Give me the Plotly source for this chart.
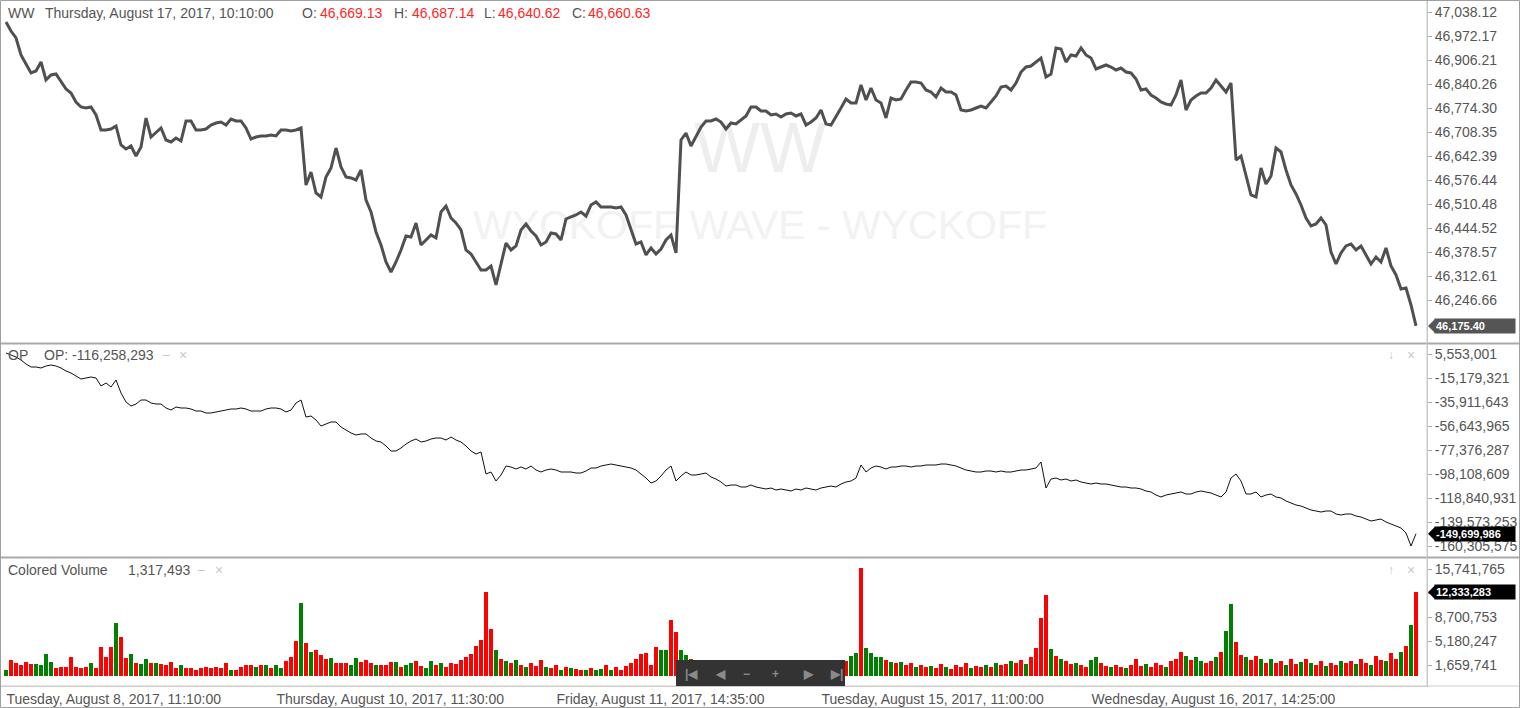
import numpy as np
import plotly.graph_objects as go

# ---------------- data ----------------
price = [
    47010.6, 46985.9, 46966.7, 46920.0, 46895.2, 46870.5, 46876.0, 46900.7, 46851.3, 46865.0,
    46867.7, 46845.8, 46826.5, 46815.5, 46790.8, 46777.1, 46774.3, 46777.1, 46755.1, 46713.9,
    46713.9, 46716.6, 46724.9, 46672.6, 46661.6, 46669.9, 46642.4, 46667.1, 46746.8, 46694.6,
    46708.4, 46719.4, 46686.4, 46680.9, 46691.9, 46683.6, 46738.6, 46738.6, 46713.9, 46713.9,
    46716.6, 46727.6, 46733.1, 46735.8, 46727.6, 46744.1, 46738.6, 46738.6, 46719.4, 46689.1,
    46694.6, 46697.4, 46697.4, 46700.1, 46697.4, 46713.9, 46713.9, 46711.1, 46713.9, 46719.4,
    46562.7, 46598.4, 46540.7, 46529.7, 46584.7, 46609.4, 46664.4, 46612.2, 46584.7, 46582.0,
    46576.5, 46603.9,
    46521.5, 46488.5, 46433.6, 46397.8, 46351.1, 46323.6, 46351.1, 46384.1, 46422.6, 46419.8,
    46458.3, 46397.8, 46411.6, 46425.3, 46417.1, 46488.5, 46505.0, 46472.0, 46458.3, 46439.1,
    46384.1, 46373.1, 46351.1, 46329.1, 46329.1, 46340.1, 46287.9, 46342.9, 46403.3, 46384.1,
    46395.1, 46439.1, 46455.5, 46436.3, 46422.6, 46397.8, 46406.1, 46430.8, 46428.1, 46411.6,
    46469.3, 46474.8, 46480.3, 46488.5, 46477.5, 46507.8, 46516.0, 46502.3, 46502.3, 46502.3,
    46499.5, 46502.3, 46480.3, 46439.1, 46400.6, 46406.1, 46370.4, 46389.6, 46373.1, 46386.8,
    46411.6, 46425.3, 46375.9, 46686.4, 46705.6, 46669.9, 46694.6, 46722.1, 46738.6, 46738.6,
    46744.1, 46735.8, 46716.6, 46733.1, 46730.3, 46741.3, 46752.3, 46777.1, 46777.1, 46766.1,
    46766.1, 46755.1, 46757.8, 46749.6, 46757.8, 46760.6, 46752.3, 46757.8, 46727.6, 46735.8,
    46746.8, 46768.8, 46730.3, 46727.6, 46749.6, 46774.3, 46799.0, 46788.1, 46788.1, 46837.5,
    46796.3, 46829.3, 46796.3, 46788.1, 46746.8, 46801.8, 46796.3,
    46799.0, 46823.8, 46845.8, 46845.8, 46843.0, 46823.8, 46818.3, 46804.5, 46829.3, 46818.3,
    46818.3, 46810.0, 46768.8, 46766.1, 46768.8, 46774.3, 46779.8, 46774.3, 46790.8, 46807.3,
    46832.0, 46834.8, 46823.8, 46843.0, 46873.2, 46887.0, 46889.7, 46900.7, 46911.7, 46859.5,
    46867.7, 46939.2, 46936.4, 46900.7, 46920.0, 46917.2, 46939.2, 46920.0, 46911.7, 46881.5,
    46887.0, 46892.5, 46887.0, 46878.7, 46884.2, 46873.2, 46870.5, 46854.0, 46823.8, 46826.5,
    46810.0, 46801.8, 46790.8, 46785.3, 46782.6, 46810.0, 46851.3, 46768.8, 46796.3, 46807.3,
    46815.5, 46815.5, 46829.3, 46851.3, 46834.8, 46818.3, 46843.0, 46631.4, 46642.4, 46590.2,
    46535.2, 46529.7, 46609.4, 46565.5, 46587.5, 46664.4, 46653.4, 46603.9, 46562.7, 46538.0,
    46507.8, 46472.0, 46450.1, 46455.5, 46472.0, 46452.8, 46378.6, 46345.6, 46375.9, 46395.1,
    46400.6, 46384.1, 46395.1, 46370.4, 46345.6, 46364.9, 46351.1, 46389.6, 46340.1, 46315.4,
    46276.9, 46279.7, 46233.0, 46175.4,
]

# OP indicator, millions
op_millions = [
    6.42, 4.69, 2.96, 0.37, -3.09, -5.68, -5.68, -6.54, -4.81, -3.95,
    -4.81, -6.54, -9.13, -10.86, -13.45, -16.04, -15.18, -14.31, -15.18, -22.09,
    -19.50, -22.95, -16.91, -28.14, -35.91, -39.37, -37.64, -34.18, -34.18, -36.78,
    -37.64, -37.64, -41.10, -42.82, -40.23, -41.10, -41.10, -41.96, -43.69, -43.69,
    -45.41, -45.41, -44.55, -43.69, -42.82, -41.96, -41.96, -41.10, -41.96, -43.69,
    -43.69, -43.69, -41.96, -41.10, -41.10, -41.96, -44.55, -42.82, -36.78, -34.18,
    -48.87, -48.01, -51.46, -56.64, -54.92, -53.19, -53.19, -57.51, -60.10, -62.69,
    -64.42, -63.55, -63.55, -67.01, -69.60, -70.47, -73.92, -78.24, -78.24, -75.65,
    -72.19, -69.60, -67.88, -70.47, -69.60, -67.88, -67.01, -67.01, -68.74, -66.15,
    -68.74, -70.47, -73.92, -78.24, -80.83, -79.10, -98.11, -96.38, -104.16, -98.97,
    -91.20, -92.06, -93.79, -92.06, -93.79, -91.20, -94.65, -96.38, -94.65, -93.79,
    -94.65, -96.38, -96.38, -96.38, -97.25, -97.25, -95.52, -92.93, -92.93, -91.20,
    -90.33, -89.47, -90.33, -91.20, -92.06, -92.93, -94.65, -98.11, -101.56, -105.88,
    -104.16, -99.84, -94.65, -91.20, -104.16, -99.84, -96.38, -98.97, -98.97, -98.11,
    -97.25, -100.70, -102.43, -105.02, -108.48, -107.61, -107.61, -109.34, -109.34, -107.61,
    -109.34, -110.20, -111.07, -110.20, -111.93, -111.07, -111.93, -112.79, -111.07, -111.93,
    -110.20, -111.07, -111.93, -110.20, -109.34, -108.48, -109.34, -106.75, -105.02, -104.16,
    -101.56, -90.33, -96.38, -92.93, -91.20, -92.06, -93.79, -92.06, -92.06, -91.20,
    -91.20, -92.06, -91.20, -91.20, -90.33, -90.33, -90.33, -89.47, -89.47, -90.33,
    -91.20, -92.93, -94.65, -95.52, -96.38, -96.38, -95.52, -95.52, -96.38, -95.52,
    -96.38, -96.38, -95.52, -94.65, -94.65, -93.79, -92.93, -87.74, -110.20, -102.43,
    -101.56, -103.29, -102.43, -104.16, -103.29, -105.02, -105.88, -106.75, -105.88, -106.75,
    -106.75, -107.61, -108.48, -109.34, -109.34, -110.20, -110.20, -111.07, -112.79, -113.66,
    -116.25, -117.98, -116.25, -115.39, -114.52, -113.66, -115.39, -115.39, -113.66, -112.79,
    -113.66, -114.52, -116.25, -117.98, -113.66, -101.56, -98.11, -104.16, -115.39, -115.39,
    -113.66, -117.98, -116.25, -115.39, -117.98, -118.84, -121.43, -123.16, -124.89, -125.75,
    -127.48, -129.21, -130.07, -130.94, -130.07, -130.07, -132.66, -133.53, -132.66, -132.66,
    -134.39, -135.26, -136.98, -138.71, -137.85, -136.98, -139.57, -141.30, -143.03, -144.76,
    -149.08, -160.31, -149.699986,
]

# Colored volume, millions
volume_millions = [
    0.92, 2.39, 1.91, 1.66, 2.05, 1.76, 1.76, 1.66, 3.32, 2.05,
    1.17, 1.41, 1.41, 2.88, 1.41, 1.17, 1.41, 1.91, 1.26, 4.34,
    2.88, 4.34, 7.77, 5.81, 2.73, 3.23, 1.91, 1.76, 2.54, 1.91,
    1.91, 1.76, 1.66, 2.05, 1.17, 1.66, 1.17, 1.17, 0.92, 1.17,
    1.41, 1.17, 1.41, 1.17, 1.91, 0.92, 0.92, 1.41, 1.66, 1.66,
    1.41, 1.66, 1.66, 1.17, 1.66, 1.17, 2.24, 2.88, 5.18, 10.80,
    4.84, 3.61, 3.86, 3.12, 2.54, 2.73, 1.91, 1.91, 1.91, 1.66,
    2.64, 2.05, 2.35, 1.91, 1.66, 1.66, 1.66, 2.14, 2.14, 1.40,
    1.70, 2.00, 2.20, 1.50, 1.20, 2.30, 1.60, 1.90, 1.30, 2.00,
    1.80, 2.40, 2.90, 3.30, 4.40, 5.40, 12.30, 7.00, 3.80, 2.60,
    2.20, 2.00, 2.40, 1.60, 1.30, 1.90, 1.50, 2.40, 1.30, 1.20,
    1.60, 1.00, 1.30, 1.20, 1.10, 0.90, 1.00, 1.20, 0.90, 1.10,
    1.60, 1.00, 1.40, 1.00, 1.50, 2.00, 2.60, 3.30, 3.40, 1.70,
    4.30, 3.80, 3.80, 8.30, 6.50, 3.90, 3.10, 2.60, 1.80, 1.50,
    1.30, 1.10, 1.20, 1.40, 1.00, 1.20, 1.60, 1.10, 1.00, 1.30,
    1.40, 1.10, 0.90, 1.20, 1.00, 1.30, 1.10, 1.00, 1.20, 1.00,
    1.30, 1.10, 1.20, 1.40, 1.20, 1.50, 1.30, 1.60, 2.20, 3.00,
    3.40, 15.90, 4.20, 3.40, 2.90, 2.80, 2.40, 2.10, 2.00, 2.10,
    1.60, 1.90, 1.40, 1.70, 1.30, 1.50, 1.20, 1.80, 1.30, 1.10,
    1.60, 1.40, 2.00, 1.20, 1.50, 1.30, 1.70, 1.40, 2.00, 1.60,
    1.80, 2.30, 1.90, 2.40, 1.80, 2.90, 4.10, 8.60, 11.90, 4.00,
    3.00, 2.50, 2.20, 1.80, 2.00, 1.60, 1.40, 2.40, 2.80, 1.90,
    1.50, 1.30, 1.70, 1.40, 1.20, 1.60, 2.60, 1.50, 1.80, 1.30,
    2.00, 1.70, 1.40, 2.20, 2.60, 3.60, 3.00, 2.40, 2.90, 2.20,
    1.90, 2.30, 2.80, 3.60, 6.60, 10.60, 5.00, 3.20, 2.80, 2.40,
    3.00, 2.60, 2.00, 2.50, 1.90, 2.20, 1.70, 2.50, 1.80, 2.10,
    2.60, 1.90, 1.60, 2.20, 1.50, 2.00, 1.60, 2.30, 1.90, 2.20,
    1.80, 2.60, 2.00, 1.70, 3.00, 2.40, 2.20, 3.40, 2.50, 3.50,
    4.50, 7.50, 12.333283,
]

# g = up (green), r = down (red)
volume_dir = list(
    "grrrrrgggg" "rrrrrrrgrr" "rrgrrgrggr" "grrrrgrrrr" "rrrrrgrrrr"
    "grgrggrrrg" "rgrrrgrrrg" "grrrgrrrgr" "ggrrggrgrr" "rrrrrrrrgr"
    "grgrgrrrgr" "rgrgrrgrgg" "rgrrrrrrrr" "rggrrggrgr" "rgrrgrrgrr"
    "grrgrrgrrg" "rrgrrrgrrg" "grggggrgrg" "rrgrrgrrgr" "rrrgrrgrgr"
    "rgrrgrrrrg" "rgrrgrrggr" "rgrrgrrrgr" "rrgrrrgrgg" "rrgrggrrgr"
    "rgrgrrgrrg" "rgrrgrrgrr" "grrgrrgrrg" "rgr"
)

price_ticks = [47038.12, 46972.17, 46906.21, 46840.26, 46774.30, 46708.35, 46642.39,
               46576.44, 46510.48, 46444.52, 46378.57, 46312.61, 46246.66]
op_ticks = [5553001, -15179321, -35911643, -56643965, -77376287, -98108609,
            -118840931, -139573253, -160305575]
vol_ticks = [15741765, 12221259, 8700753, 5180247, 1659741]
x_tick_bars = [0, 54, 110, 163, 217]
x_tick_text = ["Tuesday, August 8, 2017, 11:10:00",
               "Thursday, August 10, 2017, 11:30:00",
               "Friday, August 11, 2017, 14:35:00",
               "Tuesday, August 15, 2017, 11:00:00",
               "Wednesday, August 16, 2017, 14:25:00"]

# ---------------- figure ----------------
W, H = 1520, 708
ML, MR, MT, MB = 1, 93, 1, 22
PW, PH = W - ML - MR, H - MT - MB


def px(p):  # pixel x -> paper
    return (p - ML) / PW


def py(p):  # pixel y (from top) -> paper
    return (H - MB - p) / PH


x = np.arange(len(price))
op = np.array(op_millions) * 1e6
vol = np.array(volume_millions) * 1e6
bar_colors = ['#008000' if d == 'g' else '#ff0000' for d in volume_dir]

FONT = "Liberation Sans, Arial, sans-serif"
TXT = "#555555"

fig = go.Figure()
fig.add_trace(go.Scatter(x=x, y=price, mode='lines', yaxis='y',
                         line=dict(color='#505050', width=3), showlegend=False))
fig.add_trace(go.Scatter(x=x, y=op, mode='lines', yaxis='y2',
                         line=dict(color='#111111', width=1), showlegend=False))
fig.add_trace(go.Bar(x=x, y=vol, yaxis='y3', marker=dict(color=bar_colors, line=dict(width=0)),
                     width=0.8, showlegend=False))

yax_common = dict(side='right', anchor='x', showgrid=False, zeroline=False,
                  showline=True, linecolor='#c8c8c8', ticks='outside', ticklen=4,
                  tickcolor='#aaaaaa', tickfont=dict(family=FONT, size=14, color=TXT),
                  automargin=False, fixedrange=True)

fig.update_layout(
    width=W, height=H,
    margin=dict(l=ML, r=MR, t=MT, b=MB),
    plot_bgcolor='white', paper_bgcolor='white',
    showlegend=False, hovermode=False, bargap=0,
    xaxis=dict(range=[(1 - 6) / 5, (ML + PW - 6) / 5], anchor='y3', showgrid=False,
               zeroline=False, showline=True, linecolor='#cccccc',
               tickvals=x_tick_bars, ticktext=x_tick_text, ticks='',
               ticklabelposition='outside right',
               tickfont=dict(family=FONT, size=14, color=TXT), automargin=False),
    yaxis=dict(domain=[py(343), py(1)], range=[46128.49, 47068.35],
               tickvals=price_ticks, ticktext=[f"{v:,.2f}" for v in price_ticks], **yax_common),
    yaxis2=dict(domain=[py(557), py(345)], range=[-169807889, 13327622],
                tickvals=op_ticks, ticktext=[f"{v:,d}" for v in op_ticks], **yax_common),
    yaxis3=dict(domain=[py(686), py(559)], range=[-1420702, 17208643],
                tickvals=vol_ticks, ticktext=[f"{v:,d}" for v in vol_ticks], **yax_common),
)

shapes = []
# watermark (below the traces)
shapes.append(dict(type='rect', xref='paper', yref='paper', x0=px(560), x1=px(960),
                   y0=py(182), y1=py(100), line=dict(width=0), fillcolor='rgba(0,0,0,0)',
                   layer='below',
                   label=dict(text='WW', font=dict(family=FONT, size=70, color='#eeeeee'),
                              textposition='middle center')))
shapes.append(dict(type='rect', xref='paper', yref='paper', x0=px(360), x1=px(1160),
                   y0=py(248), y1=py(194), line=dict(width=0), fillcolor='rgba(0,0,0,0)',
                   layer='below',
                   label=dict(text='WYCKOFF WAVE - WYCKOFF',
                              font=dict(family=FONT, size=41, color='#f2f2f2'),
                              textposition='middle center')))
# panel separators
for yy, col, wd in [(343.5, '#aaaaaa', 2), (557.5, '#aaaaaa', 2), (686, '#cccccc', 1)]:
    shapes.append(dict(type='line', xref='paper', yref='paper', x0=px(0), x1=px(W),
                       y0=py(yy), y1=py(yy), line=dict(color=col, width=wd)))
# right axis column line
shapes.append(dict(type='line', xref='paper', yref='paper', x0=px(1427), x1=px(1427),
                   y0=py(686), y1=py(0), line=dict(color='#c8c8c8', width=1)))
# outer border
shapes.append(dict(type='rect', xref='paper', yref='paper', x0=px(0.5), x1=px(W - 0.5),
                   y0=py(H - 0.5), y1=py(0.5), line=dict(color='#a0a0a0', width=1)))
# navigator toolbar
shapes.append(dict(type='rect', xref='paper', yref='paper', x0=px(676), x1=px(845),
                   y0=py(686), y1=py(660), line=dict(width=0), fillcolor='#333333',
                   layer='above'))

annotations = []


# last-value pointers on the right axis
def value_tag(yref, yval, text, bg):
    shapes.append(dict(type='path', xref='paper', yref=yref, ysizemode='pixel', yanchor=yval,
                       path=f"M {px(1428)},0 L {px(1435)},7 L {px(1435)},-7 Z",
                       fillcolor=bg, line=dict(width=0), layer='above'))
    annotations.append(dict(xref='paper', yref=yref, x=px(1434), y=yval, xanchor='left',
                            yanchor='middle', text=f"<b>{text}</b>", showarrow=False,
                            bgcolor=bg, font=dict(family=FONT, size=11, color='white'),
                            width=78, align='left', borderpad=1))


value_tag('y', price[-1], f"{price[-1]:,.2f}", '#555555')
value_tag('y2', op[-1], f"{int(round(op[-1])):,d}", '#000000')
value_tag('y3', vol[-1], f"{int(round(vol[-1])):,d}", '#000000')


def label(xp, yp, text, color=TXT, size=14):
    annotations.append(dict(xref='paper', yref='paper', x=px(xp), y=py(yp), xanchor='left',
                            yanchor='middle', text=text, showarrow=False,
                            font=dict(family=FONT, size=size, color=color)))


RED = '#ff2626'
LIGHT = '#c8c8c8'
label(6, 13, 'WW')
label(43, 13, 'Thursday, August 17, 2017, 10:10:00')
label(300, 13, 'O:'); label(318, 13, '46,669.13', RED)
label(392, 13, 'H:'); label(410, 13, '46,687.14', RED)
label(482, 13, 'L:'); label(496, 13, '46,640.62', RED)
label(570, 13, 'C:'); label(586, 13, '46,660.63', RED)

label(6, 355, 'OP')
label(42, 355, 'OP: -116,258,293')
label(160, 355, '−', LIGHT)
label(177, 355, '×', LIGHT)
label(1386, 355, '↓', LIGHT, 12)
label(1405, 355, '×', LIGHT)

label(6, 570, 'Colored Volume')
label(126, 570, '1,317,493')
label(195, 570, '−', LIGHT)
label(213, 570, '×', LIGHT)
label(1386, 570, '↑', LIGHT, 12)
label(1405, 570, '×', LIGHT)

# toolbar icons
for xp, t in [(683, '|◀'), (713, '◀'), (741, '−'), (770, '+'), (801, '▶'), (828, '▶|')]:
    label(xp, 674, f"<b>{t}</b>", '#8a8a8a', 12)

fig.update_layout(shapes=shapes, annotations=annotations)

fig.write_html(
    "out.html",
    config={'displayModeBar': False},
    post_script="document.body.style.margin='0';document.documentElement.style.overflow='hidden';",
)
